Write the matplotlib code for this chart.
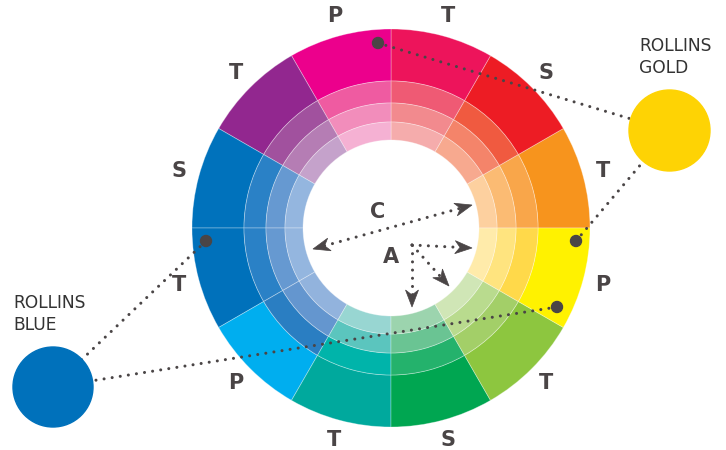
import numpy as np
import matplotlib
matplotlib.use("Agg")
import matplotlib.pyplot as plt
from matplotlib.patches import Wedge, Circle, Polygon

# ---------------- data ----------------
# 12 segments of 30 degrees, counter-clockwise starting at east (0 deg)
segment_start_angles = [0, 30, 60, 90, 120, 150, 180, 210, 240, 270, 300, 330]
segment_labels = ["T", "S", "T", "P", "T", "S", "T", "P", "T", "S", "T", "P"]
outer_colors = ["#F7941D", "#ED1C24", "#ED145B", "#EC008C", "#92278F", "#0072BC",
                "#0071BB", "#00AEEF", "#00A99D", "#00A651", "#8DC63F", "#FFF200"]
tint1_colors = ["#F9A64A", "#F05A40", "#EF5A74", "#EF5BA1", "#A1519E", "#2A81C6",
                "#2A81C6", "#2A7EC2", "#00B4AA", "#24B26C", "#A3CF68", "#FFD94A"]
tint2_colors = ["#FBBB73", "#F4846A", "#F28A8E", "#F28DBB", "#B57DB4", "#6699D1",
                "#6699D1", "#6496CF", "#5BC5BE", "#6AC493", "#B9DB8E", "#FFE47F"]
tint3_colors = ["#FDD09F", "#F7A98F", "#F5ACAC", "#F5B1D3", "#C5A2CB", "#94B6DF",
                "#94B6DF", "#92B3DD", "#98D6D2", "#9CD4AE", "#D0E6B6", "#FFEBAA"]
ring_edges = [199, 147, 125, 106, 88]          # radii (px) outer -> inner

swatch_names = ["ROLLINS\nGOLD", "ROLLINS\nBLUE"]
swatch_colors = ["#FED304", "#0071BB"]

# ---------------- layout ----------------
W, H = 726, 450
fig = plt.figure(figsize=(W / 100, H / 100), dpi=100)
ax = fig.add_axes([0, 0, 1, 1])
ax.set_xlim(0, W)
ax.set_ylim(H, 0)
ax.set_aspect("equal")
ax.axis("off")

cx, cy = 391, 228
dark = "#4A4546"


def pt(r, ang):
    a = np.deg2rad(ang)
    return cx + r * np.cos(a), cy - r * np.sin(a)


rings = [outer_colors, tint1_colors, tint2_colors, tint3_colors]
for ri, cols in enumerate(rings):
    r_out = ring_edges[ri]
    width = ring_edges[ri] - ring_edges[ri + 1]
    for a0, c in zip(segment_start_angles, cols):
        # y axis is inverted, so visual angle a -> data angle -a
        w = Wedge((cx, cy), r_out, -(a0 + 30), -a0, width=width,
                  facecolor=c, edgecolor=(1, 1, 1, 0.35), linewidth=0.6, zorder=1)
        ax.add_patch(w)

for a0, lab in zip(segment_start_angles, segment_labels):
    x, y = pt(219, a0 + 15)
    ax.text(x, y, lab, ha="center", va="center", fontsize=15, fontweight="bold",
            color=dark, zorder=5)

# ---------------- connectors ----------------
dot_style = dict(color=dark, linewidth=2.2, linestyle=(0, (0.01, 2.67)),
                 dash_capstyle="round", zorder=3)

gold_c, gold_r = (669.5, 130.5), 40.5
blue_c, blue_r = (53, 387), 40

gold_dots = [(378, 43), (576, 241)]
blue_dots = [(206, 241), (557, 307)]

for (x, y) in gold_dots:
    ax.plot([x, gold_c[0]], [y, gold_c[1]], **dot_style)
    ax.add_patch(Circle((x, y), 5.5, color=dark, zorder=4))
for (x, y) in blue_dots:
    ax.plot([x, blue_c[0]], [y, blue_c[1]], **dot_style)
    ax.add_patch(Circle((x, y), 5.5, color=dark, zorder=4))

ax.add_patch(Circle(gold_c, gold_r, color=swatch_colors[0], zorder=6))
ax.add_patch(Circle(blue_c, blue_r, color=swatch_colors[1], zorder=6))

ax.text(639, 57, swatch_names[0], ha="left", va="center", fontsize=12.3,
        color="#333333", linespacing=1.25, zorder=7)
ax.text(13, 314, swatch_names[1], ha="left", va="center", fontsize=12.3,
        color="#333333", linespacing=1.25, zorder=7)


# ---------------- arrows in the centre ----------------
def head(tip, start, L=17, Wd=6.5, notch=5):
    tip = np.array(tip, float)
    d = tip - np.array(start, float)
    d /= np.hypot(*d)
    n = np.array([-d[1], d[0]])
    pts = [tip, tip - L * d + Wd * n, tip - (L - notch) * d, tip - L * d - Wd * n]
    ax.add_patch(Polygon(pts, closed=True, facecolor=dark, edgecolor=dark,
                         linewidth=0.5, zorder=5))
    return tip - (L - notch) * d


# complementary (C): double headed
c_a, c_b = (313, 249), (472, 205)
pa = head(c_a, c_b)
pb = head(c_b, c_a)
ax.plot([pa[0], pb[0]], [pa[1], pb[1]], **dot_style)
ax.text(378, 212, "C", ha="center", va="center", fontsize=15, fontweight="bold",
        color=dark, zorder=5)

# analogous (A): three arrows from one origin
a_origin = (412, 245)
a_tips = [(472, 248), (449, 286), (412, 307)]
for t in a_tips:
    b = head(t, a_origin)
    ax.plot([a_origin[0], b[0]], [a_origin[1], b[1]], **dot_style)
ax.text(391, 257, "A", ha="center", va="center", fontsize=15, fontweight="bold",
        color=dark, zorder=5)

fig.savefig("out.png", dpi=100)
